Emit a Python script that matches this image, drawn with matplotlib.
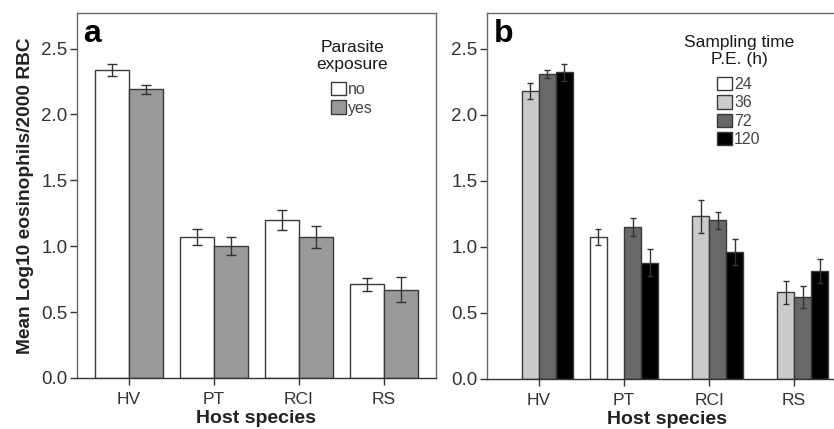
import numpy as np
import matplotlib
matplotlib.use("Agg")
import matplotlib.pyplot as plt
from matplotlib.patches import Patch

plt.rcParams['font.family'] = ['Liberation Sans', 'DejaVu Sans']

# Data
species = ['HV', 'PT', 'RCI', 'RS']

# panel a: parasite exposure
exposure = ['no', 'yes']
mean_a = {'no': [2.34, 1.07, 1.20, 0.71],
          'yes': [2.19, 1.00, 1.07, 0.67]}
err_a = {'no': [0.045, 0.06, 0.075, 0.05],
         'yes': [0.035, 0.07, 0.085, 0.095]}

# panel b: sampling time P.E. (h); None = no bar
times = ['24', '36', '72', '120']
mean_b = {'24': [None, 1.075, None, None],
          '36': [2.18, None, 1.23, 0.655],
          '72': [2.31, 1.15, 1.20, 0.62],
          '120': [2.32, 0.88, 0.96, 0.82]}
err_b = {'24': [0, 0.06, 0, 0],
         '36': [0.06, 0, 0.125, 0.09],
         '72': [0.03, 0.065, 0.065, 0.085],
         '120': [0.065, 0.10, 0.10, 0.09]}

colors_a = {'no': 'white', 'yes': '#9a9a9a'}
colors_b = {'24': 'white', '36': '#cbcbcb', '72': '#686868', '120': 'black'}

edge = '#3a3a3a'
spine_c = '#6a6a6a'

fig = plt.figure(figsize=(8.34, 4.29), dpi=100)
ax1 = fig.add_axes([0.0923, 0.1189, 0.4305, 0.8508])
ax2 = fig.add_axes([0.5840, 0.1166, 0.4304, 0.8531])

x = np.arange(len(species))


def style(ax):
    ax.set_xlim(-0.61, 3.61)
    ax.set_ylim(0, 2.77)
    ax.set_yticks([0, 0.5, 1.0, 1.5, 2.0, 2.5])
    ax.set_yticklabels(['0.0', '0.5', '1.0', '1.5', '2.0', '2.5'])
    ax.set_xticks(x)
    ax.set_xticklabels(species)
    for s in ax.spines.values():
        s.set_color(spine_c)
        s.set_linewidth(1.0)
    ax.spines['bottom'].set_color('#333333')
    ax.tick_params(axis='both', colors='#333333',
                   length=5, width=1.0, direction='out')
    ax.tick_params(axis='y', labelsize=13.5, pad=2)
    ax.tick_params(axis='x', labelsize=12.5, pad=5)
    ax.set_xlabel('Host species', fontsize=14, fontweight='bold',
                  color='#222222', labelpad=2.5)


def legend(ax, handles, labels, title, anchor):
    leg = ax.legend(handles, labels, title=title, frameon=False,
                    loc='upper center', bbox_to_anchor=anchor,
                    fontsize=11.5, title_fontsize=12.5, handlelength=0.9,
                    handleheight=0.9, handletextpad=0.15, labelspacing=0.2,
                    borderpad=0.0)
    leg._legend_box.sep = 7
    leg.get_title().set_multialignment('center')
    leg.get_title().set_color('#1a1a1a')
    for t in leg.get_texts():
        t.set_color('#444444')
    return leg


# panel a
w = 0.4
for i, lvl in enumerate(exposure):
    pos = x - w / 2 + i * w
    ax1.bar(pos, mean_a[lvl], width=w, color=colors_a[lvl], edgecolor=edge,
            linewidth=1.0, zorder=2)
    ax1.errorbar(pos, mean_a[lvl], yerr=err_a[lvl], fmt='none',
                 ecolor='#333333', elinewidth=1.0, capsize=3.6, capthick=1.0,
                 zorder=3)
style(ax1)
ax1.set_ylabel('Mean Log10 eosinophils/2000 RBC', fontsize=13.8,
               fontweight='bold', color='#222222', labelpad=5)
ax1.text(0.018, 0.9205, 'a', transform=ax1.transAxes, fontsize=23,
         fontweight='bold', va='baseline', ha='left')
h_a = [Patch(facecolor=colors_a[l], edgecolor=edge, linewidth=1.0)
       for l in exposure]
legend(ax1, h_a, exposure, 'Parasite\nexposure', (0.766, 0.948))

# panel b
w = 0.2
for i, t in enumerate(times):
    pos = x - 0.3 + i * w
    vals = mean_b[t]
    for j in range(len(species)):
        if vals[j] is None:
            continue
        ax2.bar(pos[j], vals[j], width=w, color=colors_b[t], edgecolor=edge,
                linewidth=1.0, zorder=2)
        ax2.errorbar(pos[j], vals[j], yerr=err_b[t][j], fmt='none',
                     ecolor='#333333', elinewidth=1.0, capsize=2.3,
                     capthick=1.0, zorder=3)
style(ax2)
ax2.text(0.02, 0.9205, 'b', transform=ax2.transAxes, fontsize=23,
         fontweight='bold', va='baseline', ha='left')
h_b = [Patch(facecolor=colors_b[t], edgecolor=edge, linewidth=1.0)
       for t in times]
legend(ax2, h_b, times, 'Sampling time\nP.E. (h)', (0.702, 0.962))

fig.savefig('out.png', dpi=100)
